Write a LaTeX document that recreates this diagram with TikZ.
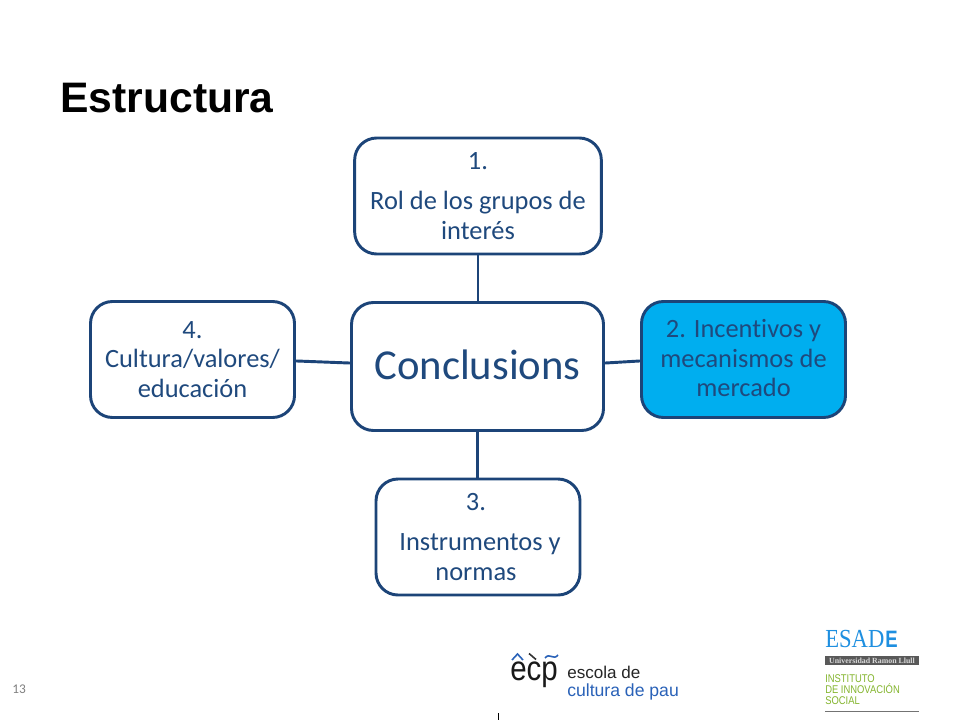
\documentclass[tikz,border=0pt]{standalone}
\usepackage{fontspec}
\setmainfont[Ligatures=NoCommon]{Carlito}
\newfontfamily\arialf{Liberation Sans}
\newfontfamily\ecpf[FakeStretch=0.85]{Liberation Sans}
\newfontfamily\ecptext[FakeStretch=1.0]{Liberation Sans}
\newfontfamily\esadef[FakeStretch=0.87]{Liberation Serif}
\newfontfamily\esadeb[FakeStretch=0.78]{Liberation Sans}
\newfontfamily\unif{Liberation Serif}
\newfontfamily\innof[FakeStretch=0.84]{Liberation Sans}
\definecolor{navy}{HTML}{1F497D}
\definecolor{edgeblue}{HTML}{1C4478}
\definecolor{skyfill}{HTML}{00AEEF}
\definecolor{ecpblue}{HTML}{2A62B8}
\definecolor{esadeblue}{HTML}{1E8FE0}
\definecolor{innogreen}{HTML}{84B52E}
\tikzset{
 x=0.75pt,y=-0.75pt,
 box/.style={draw=edgeblue,line width=2.2pt,rounded corners=16.5pt,fill=white,text=navy,align=center,inner sep=0pt,font=\fontsize{19.8}{22}\selectfont},
 link/.style={draw=edgeblue,line width=2.2pt},
 plain/.style={inner sep=0pt,anchor=base west}
}
\begin{document}
\begin{tikzpicture}
\useasboundingbox (0,0) rectangle (960,720);
\fill[white] (0,0) rectangle (960,720);
\node[plain,font=\arialf\bfseries\fontsize{32}{36}\selectfont] (title) at (60,113) {Estructura};
\node[box,minimum width=185pt,minimum height=87pt] (b1) at (478,196) {1.\\[8pt]Rol de los grupos de\\interés};
\node[box,minimum width=189pt,minimum height=96pt,text depth=3pt,font=\fontsize{32}{36}\selectfont] (c) at (477.5,366.5) {Conclusions};
\node[box,minimum width=153pt,minimum height=87pt,text depth=2pt,fill=skyfill] (b2) at (743.5,359.5) {2. Incentivos y\\mecanismos de\\mercado};
\node[box,minimum width=153pt,minimum height=87pt] (b3) at (478,537) {\hspace*{-3pt}3.\\[8pt]\hspace*{3pt}Instrumentos y\\\hspace*{-3pt}normas};
\node[box,minimum width=153pt,minimum height=87pt] (b4) at (192.5,359.5) {4.\\Cultura/valores/\\educación};
\draw[link] (b1.south) -- (b1.south |- c.north);
\draw[link] (c.south) -- (c.south |- b3.north);
\draw[link] ([yshift=2.6pt]c.east) -- ([yshift=-1.1pt]b2.west);
\draw[link] ([yshift=2.6pt]c.west) -- ([yshift=-1.1pt]b4.east);
\node[plain,text=gray,font=\fontsize{10}{12}\selectfont] (num) at (12,693) {13};
% ecp logo
\node[plain,font=\ecpf\fontsize{26}{30}\selectfont,text=black!90] (ecp) at (510,680) {ecp};
\node[plain,font=\ecptext\fontsize{12.8}{14}\selectfont,text=black!85] (esc) at (567,678) {escola de};
\node[plain,font=\ecptext\fontsize{13.2}{14}\selectfont,text=ecpblue] (cult) at (567,696) {cultura de pau};
\draw[ecpblue,line width=1.2pt] (512,660) -- (517.5,654) -- (523,660);
\draw[black!80,line width=1.2pt] (529,653.5) -- (536,659.5);
\draw[ecpblue,line width=1.2pt] (545,658) .. controls (550,652) and (553,661) .. (558,655);
\draw[black,line width=1pt] (498.5,713) -- (498.5,720);
% ESADE logo
\node[plain,font=\esadef\fontsize{19.5}{22}\selectfont,text=esadeblue] (esade) at (825,647) {ESAD};
\node[plain,font=\esadeb\bfseries\fontsize{17.8}{22}\selectfont,text=esadeblue] (esadeE) at (885,647) {E};
\fill[black!65] (825,656) rectangle (919,665);
\node[inner sep=0pt,text=black!15,font=\unif\bfseries\fontsize{5.9}{7}\selectfont] (uni) at (872,660.5) {Universidad Ramon Llull};
\node[plain,font=\innof\fontsize{8.4}{9.5}\selectfont,text=innogreen] (i1) at (825,682) {INSTITUTO};
\node[plain,font=\innof\fontsize{8.4}{9.5}\selectfont,text=innogreen] (i2) at (825,693) {DE INNOVACIÓN};
\node[plain,font=\innof\fontsize{8.4}{9.5}\selectfont,text=innogreen] (i3) at (825,704) {SOCIAL};
\draw[black!55,line width=0.7pt] (825,711) -- (919,711);
\end{tikzpicture}
\end{document}
